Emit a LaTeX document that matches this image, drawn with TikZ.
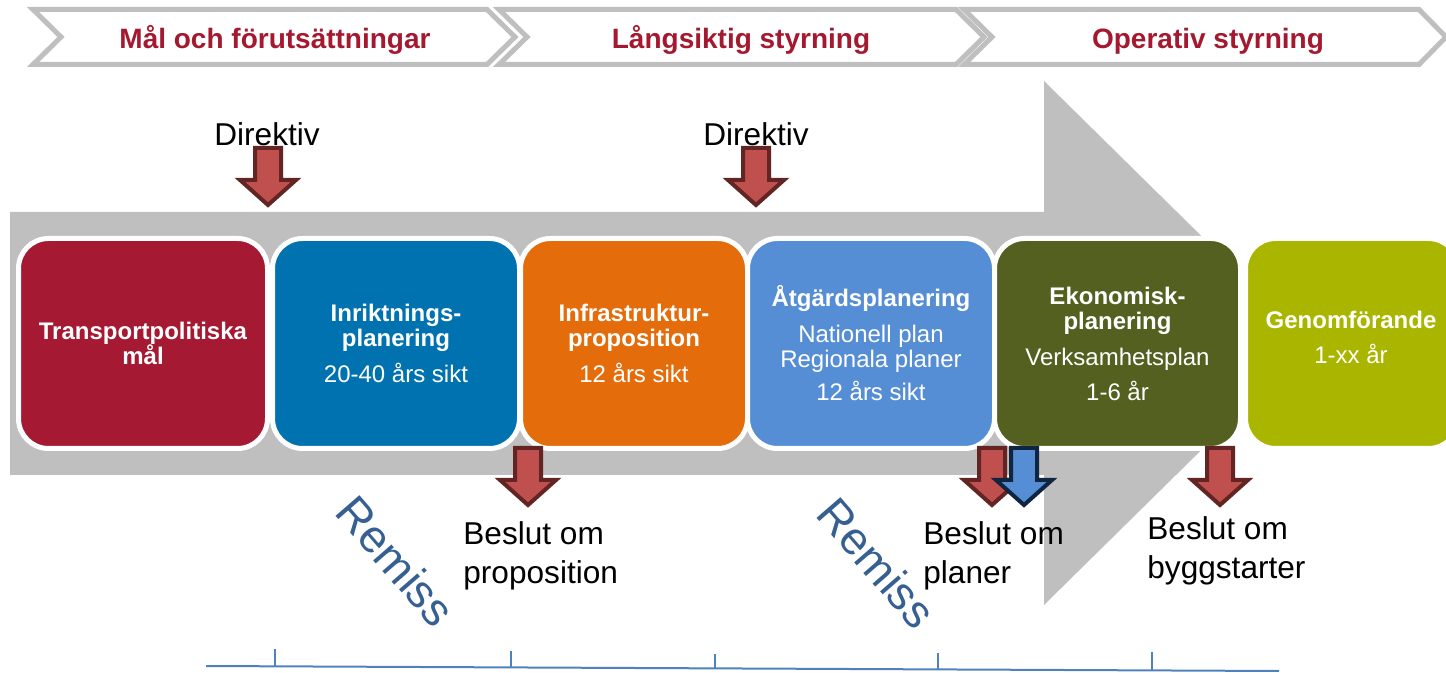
\documentclass[tikz,border=0pt]{standalone}
\usepackage{fontspec}
\setmainfont{Liberation Sans}
\definecolor{hdrred}{RGB}{165,25,48}
\definecolor{graybg}{RGB}{191,191,191}
\definecolor{cA}{RGB}{165,25,50}
\definecolor{cB}{RGB}{0,114,176}
\definecolor{cC}{RGB}{228,108,10}
\definecolor{cD}{RGB}{85,142,213}
\definecolor{cE}{RGB}{84,96,32}
\definecolor{cF}{RGB}{170,181,0}
\definecolor{arrred}{RGB}{192,80,77}
\definecolor{arrdark}{RGB}{99,37,35}
\definecolor{arrblue}{RGB}{85,142,213}
\definecolor{arrnavy}{RGB}{16,37,63}
\definecolor{remblue}{RGB}{55,96,146}
\definecolor{axblue}{RGB}{79,129,189}
\begin{document}
\begin{tikzpicture}[x=0.5pt,y=-0.5pt,
  chev/.style={draw=graybg, line width=2.5pt, fill=white, line join=miter},
  hdr/.style={text=hdrred, font=\fontsize{14pt}{16pt}\selectfont\bfseries, anchor=base, inner sep=0pt},
  box/.style={rounded corners=15pt, draw=white, line width=2.5pt, minimum height=105pt, text=white, align=center, font=\fontsize{12pt}{12.5pt}\selectfont, inner sep=0pt},
  boxtxt/.style={text=white, align=center, font=\fontsize{12pt}{12.5pt}\selectfont, inner sep=0pt},
  lbl/.style={font=\fontsize{15.8pt}{19.5pt}\selectfont, align=left, anchor=base west, inner sep=0pt},
  dirlbl/.style={font=\fontsize{15.8pt}{19.5pt}\selectfont, anchor=base, inner sep=0pt},
  remiss/.style={font=\fontsize{23pt}{27pt}\selectfont, text=remblue, rotate=-49, inner sep=0pt},
  arrshape/.style={line width=2pt, line join=miter},
  rdown/.pic={\filldraw[arrshape, fill=arrred, draw=arrdark] (-13,2) -- (13,2) -- (13,34) -- (28,34) -- (0,59) -- (-28,34) -- (-13,34) -- cycle;},
  bdown/.pic={\filldraw[arrshape, fill=arrblue, draw=arrnavy] (-13,2) -- (13,2) -- (13,34) -- (28,34) -- (0,59) -- (-28,34) -- (-13,34) -- cycle;},
  axis/.style={draw=axblue, line width=1pt},
  tick/.style={draw=axblue, line width=0.75pt}
]
\useasboundingbox (0,0) rectangle (1446,673);
\clip (0,0) rectangle (1446,673);

% header chevrons
\draw[chev] (33,9.5) -- (487,9.5) -- (515,37) -- (487,64.5) -- (33,64.5) -- (61,37) -- cycle;
\draw[chev] (499,9.5) -- (956,9.5) -- (984,37) -- (956,64.5) -- (499,64.5) -- (527,37) -- cycle;
\draw[chev] (964,9.5) -- (1419,9.5) -- (1446,37) -- (1419,64.5) -- (964,64.5) -- (992,37) -- cycle;
\node[hdr] (h1) at (275,49) {Mål och förutsättningar};
\node[hdr] (h2) at (741,49) {Långsiktig styrning};
\node[hdr] (h3) at (1208,49) {Operativ styrning};

% big gray arrow
\fill[graybg] (10,212) -- (1044,212) -- (1044,81) -- (1310,343) -- (1044,605) -- (1044,475) -- (10,475) -- cycle;

% boxes
\node[box, fill=cA, minimum width=124.5pt] (b1) at (143,343.5) {\textbf{Transportpolitiska}\\\textbf{mål}};
\node[box, fill=cB, minimum width=123.5pt] (b2) at (396,343.5) {\textbf{Inriktnings-}\\\textbf{planering}\\[5.5pt]20-40 års sikt};
\node[box, fill=cC, minimum width=113.5pt] (b3) at (634,343.5) {\textbf{Infrastruktur-}\\\textbf{proposition}\\[5.5pt]12 års sikt};
\node[box, fill=cD, minimum width=123.5pt] (b4) at (871,343.5) {\textbf{Åtgärdsplanering}\\[5.5pt]Nationell plan\\Regionala planer\\[4pt]12 års sikt};
\node[box, fill=cE, minimum width=123pt] (b5) at (1117.5,343.5) {\textbf{Ekonomisk-}\\\textbf{planering}\\[5.5pt]Verksamhetsplan\\[5pt]1-6 år};
\node[box, fill=cF, minimum width=106.5pt] (b6) at (1352,343.5) {};
\node[boxtxt] (b6t) at (1351,337) {\textbf{Genomförande}\\[5pt]1-xx år};

% small arrows
\pic (d1) at (268,146) {rdown};
\pic (d2) at (756,146) {rdown};
\pic (p1) at (528,446) {rdown};
\pic (p2) at (992,446) {rdown};
\pic (p3) at (1024,446) {bdown};
\pic (p4) at (1220,446) {rdown};

% labels
\node[dirlbl] (t1) at (267,146) {Direktiv};
\node[dirlbl] (t2) at (756,146) {Direktiv};
\node[lbl] (l1) at (463,583) {Beslut om\\proposition};
\node[lbl] (l2) at (923,583) {Beslut om\\planer};
\node[lbl] (l3) at (1147,578) {Beslut om\\byggstarter};
\node[remiss] (r1) at (396,561) {Remiss};
\node[remiss] (r2) at (877,563) {Remiss};

% time axis
\coordinate (ax0) at (206,666);
\coordinate (ax1) at (1279,671);
\draw[axis] (ax0) -- (ax1);
\draw[tick] (275,649) -- (275,666.3);
\draw[tick] (511,651) -- (511,667.4);
\draw[tick] (715,654) -- (715,668.3);
\draw[tick] (938,653) -- (938,669.4);
\draw[tick] (1152,652) -- (1152,670.4);
\end{tikzpicture}
\end{document}
